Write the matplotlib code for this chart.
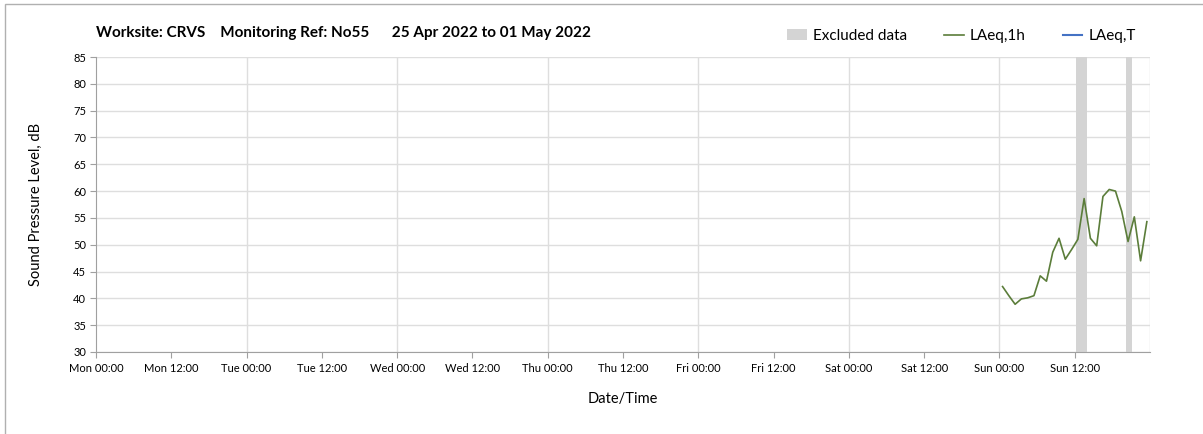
import numpy as np
import matplotlib
matplotlib.use('Agg')
import matplotlib.pyplot as plt
from matplotlib.patches import Patch, Rectangle
from matplotlib.lines import Line2D

plt.rcParams['font.family'] = ['Lato', 'DejaVu Sans']

# hours since Mon 00:00 (LAeq,1h plotted at mid-hour)
hours = [144.5, 145.5, 146.5, 147.5, 148.5, 149.5, 150.5, 151.5, 152.5, 153.5,
         154.5, 155.5, 156.5, 157.5, 158.5, 159.5, 160.5, 161.5, 162.5, 163.5,
         164.5, 165.5, 166.5, 167.5]
laeq_1h = [42.2, 40.5, 38.9, 39.9, 40.1, 40.5, 44.2, 43.2, 48.6, 51.2,
           47.3, 49.1, 51.0, 58.6, 51.2, 49.8, 59.0, 60.3, 60.0, 56.2,
           50.6, 55.2, 47.0, 54.3]

# excluded periods (start, end) in hours since Mon 00:00
excluded = [(156.2, 158.0), (164.1, 165.1)]

tick_labels = ['Mon 00:00', 'Mon 12:00', 'Tue 00:00', 'Tue 12:00', 'Wed 00:00', 'Wed 12:00',
               'Thu 00:00', 'Thu 12:00', 'Fri 00:00', 'Fri 12:00', 'Sat 00:00', 'Sat 12:00',
               'Sun 00:00', 'Sun 12:00']

fig = plt.figure(figsize=(12.03, 4.34), dpi=100)
ax = fig.add_axes([96/1203, 1-352/434, (1150-96)/1203, (352-57)/434])

# outer border (left/top only visible)
fig.patches.append(Rectangle((5/1203, -0.1), 1.2, 1-4/434+0.1, transform=fig.transFigure,
                             fill=False, edgecolor='#b0b0b0', linewidth=1.0))

for s, e in excluded:
    ax.axvspan(s, e, color='#d4d4d4', linewidth=0, zorder=1)

ax.plot(hours, laeq_1h, color='#5b7d3a', linewidth=1.2, zorder=3)

ax.set_xlim(0, 168)
ax.set_ylim(30, 85)
ax.set_yticks(np.arange(30, 86, 5))
ax.set_xticks(np.arange(0, 168, 12))
ax.set_xticklabels(tick_labels, fontsize=8)
ax.tick_params(axis='y', labelsize=8, length=4, color='#a0a0a0', pad=3)
ax.tick_params(axis='x', length=4, color='#a0a0a0', pad=4)

ax.grid(axis='y', color='#dedede', linewidth=1.0, zorder=0)
for d in range(24, 169, 24):
    ax.axvline(d, color='#dedede', linewidth=1.0, zorder=0)
ax.set_axisbelow(True)

for side in ['top', 'right']:
    ax.spines[side].set_visible(False)
for side in ['left', 'bottom']:
    ax.spines[side].set_color('#a0a0a0')

ax.set_ylabel('Sound Pressure Level, dB', fontsize=10.5, labelpad=22)
ax.set_xlabel('Date/Time', fontsize=10.5, labelpad=13)

fig.text(96/1203, 1-33/434, 'Worksite: CRVS    Monitoring Ref: No55      25 Apr 2022 to 01 May 2022',
         fontsize=11, fontweight='bold', va='center', ha='left')

handles = [Patch(facecolor='#d4d4d4', edgecolor='none'),
           Line2D([], [], color='#5b7d3a', linewidth=1.2),
           Line2D([], [], color='#4472c4', linewidth=1.5)]
fig.legend(handles, ['Excluded data', 'LAeq,1h', 'LAeq,T'], loc='center right',
           bbox_to_anchor=(1142/1203, 1-36/434), ncol=3, frameon=False, fontsize=11,
           handlelength=1.3, handletextpad=0.4, columnspacing=2.4, borderaxespad=0)

fig.savefig('out.png', dpi=100)
